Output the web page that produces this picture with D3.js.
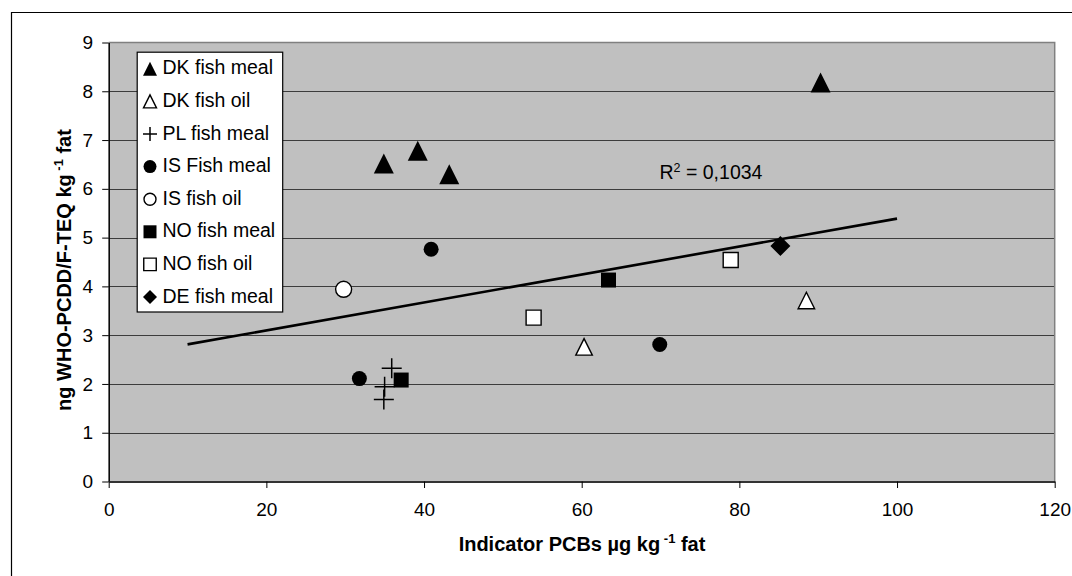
<!DOCTYPE html>
<html><head><meta charset="utf-8">
<script src="https://cdn.jsdelivr.net/npm/d3@7"></script>
<style>
body{margin:0;background:#fff}
svg{display:block}
text{font-family:"Liberation Sans",Arial,Helvetica,sans-serif;fill:#000}
</style>
</head><body>
<svg id="chart" width="1072" height="576"></svg>
<script>
// ---- data ----
const xTicks = [0, 20, 40, 60, 80, 100, 120];
const yTicks = [0, 1, 2, 3, 4, 5, 6, 7, 8, 9];
const seriesNames = ["DK fish meal", "DK fish oil", "PL fish meal", "IS Fish meal", "IS fish oil", "NO fish meal", "NO fish oil", "DE fish meal"];
const dkMealX = [34.9, 39.2, 43.2, 90.3];
const dkMealY = [6.52, 6.78, 6.30, 8.18];
const dkOilX = [60.3, 88.5];
const dkOilY = [2.76, 3.71];
const plMealX = [35.9, 35.0, 34.9];
const plMealY = [2.32, 1.94, 1.68];
const isMealX = [40.9, 31.8, 69.9];
const isMealY = [4.76, 2.11, 2.81];
const isOilX = [29.8];
const isOilY = [3.94];
const noMealX = [37.1, 63.4];
const noMealY = [2.08, 4.13];
const noOilX = [53.9, 78.9];
const noOilY = [3.36, 4.54];
const deMealX = [85.2];
const deMealY = [4.83];
const trendXRange = [10, 100];
const r2Value = "0,1034";
const xTitle = ["Indicator PCBs µg kg", "-1", " fat"];
const yTitle = ["ng WHO-PCDD/F-TEQ kg", "-1", " fat"];

// ---- build ----
const seriesX = [dkMealX, dkOilX, plMealX, isMealX, isOilX, noMealX, noOilX, deMealX];
const seriesY = [dkMealY, dkOilY, plMealY, isMealY, isOilY, noMealY, noOilY, deMealY];
const markerType = ["triFill", "triOpen", "plus", "circFill", "circOpen", "sqFill", "sqOpen", "diamond"];
const plotSize = {triFill: 20, triOpen: 16.5, plus: 20, circFill: 15, circOpen: 16, sqFill: 15, sqOpen: 15, diamond: 20};
const legSize = {triFill: 14, triOpen: 13, plus: 14, circFill: 13, circOpen: 12, sqFill: 13, sqOpen: 12.5, diamond: 14};

const svg = d3.select("#chart");
const L = 108.7, R = 1054.7, T = 42.5, B = 481.5;
const x = d3.scaleLinear().domain([0, 120]).range([L, R]);
const y = d3.scaleLinear().domain([0, 9]).range([B, T]);

// outer chart border (only top/left visible)
svg.append("path").attr("d", "M11.5,700 V12.5 H1200").attr("fill", "none").attr("stroke", "#000").attr("stroke-width", 1.2);

// plot area
svg.append("rect").attr("x", L).attr("y", T).attr("width", R - L).attr("height", B - T).attr("fill", "#c0c0c0");

// gridlines
svg.append("g").selectAll("line").data(yTicks.filter(d => d > 0 && d < 9)).join("line")
  .attr("x1", L).attr("x2", R).attr("y1", d => Math.round(y(d)) + 0.5).attr("y2", d => Math.round(y(d)) + 0.5)
  .attr("stroke", "#3c3c3c").attr("stroke-width", 1.1);
// top & right plot border
svg.append("path").attr("d", `M${L},${T} H${R} V${B}`).attr("fill", "none").attr("stroke", "#808080").attr("stroke-width", 1.5);

// axes
const yAxis = svg.append("g").attr("transform", `translate(${L},0)`)
  .call(d3.axisLeft(y).tickValues(yTicks).tickSize(6.5).tickPadding(9).tickSizeOuter(0).tickFormat(d3.format("d")));
const xAxis = svg.append("g").attr("transform", `translate(0,${B})`)
  .call(d3.axisBottom(x).tickValues(xTicks).tickSize(6.5).tickPadding(15).tickSizeOuter(0).tickFormat(d3.format("d")));
[yAxis, xAxis].forEach(g => {
  g.select(".domain").attr("stroke", "#000").attr("stroke-width", 1.5);
  g.selectAll(".tick line").attr("stroke", "#000").attr("stroke-width", 1);
  g.selectAll(".tick text").attr("font-size", "19px").attr("font-family", '"Liberation Sans",Arial,sans-serif').attr("fill", "#000");
});
xAxis.select(".domain").attr("stroke", "#333").attr("stroke-width", 2);

// marker path
function markerPath(type, s) {
  const h = s / 2;
  switch (type) {
    case "triFill": case "triOpen": return `M0,${-h}L${h},${h}L${-h},${h}Z`;
    case "plus": return `M${-h},0H${h}M0,${-h}V${h}`;
    case "circFill": case "circOpen": return `M${h},0A${h},${h} 0 1,1 ${-h},0A${h},${h} 0 1,1 ${h},0Z`;
    case "sqFill": case "sqOpen": return `M${-h},${-h}H${h}V${h}H${-h}Z`;
    case "diamond": return `M0,${-h}L${h},0L0,${h}L${-h},0Z`;
  }
}
function styleMarker(sel, type) {
  const isOpen = type.endsWith("Open");
  if (type === "plus") sel.attr("fill", "none").attr("stroke", "#000").attr("stroke-width", 1.5);
  else if (isOpen) sel.attr("fill", "#fff").attr("stroke", "#000").attr("stroke-width", 1.4);
  else sel.attr("fill", "#000").attr("stroke", "none");
}

// series markers
const gPts = svg.append("g");
seriesNames.forEach((name, i) => {
  const pts = seriesX[i].map((xv, j) => ({x: xv, y: seriesY[i][j]}));
  const t = markerType[i];
  const sel = gPts.append("g").selectAll("path").data(pts).join("path")
    .attr("transform", d => `translate(${x(d.x)},${y(d.y)})`)
    .attr("d", markerPath(t, plotSize[t]));
  styleMarker(sel, t);
});

// linear trendline over all points
const allPts = seriesX.flatMap((xs, i) => xs.map((xv, j) => [xv, seriesY[i][j]]));
const mx = d3.mean(allPts, d => d[0]), my = d3.mean(allPts, d => d[1]);
const slope = d3.sum(allPts, d => (d[0] - mx) * (d[1] - my)) / d3.sum(allPts, d => (d[0] - mx) ** 2);
const icpt = my - slope * mx;
svg.append("line")
  .attr("x1", x(trendXRange[0])).attr("y1", y(icpt + slope * trendXRange[0]))
  .attr("x2", x(trendXRange[1])).attr("y2", y(icpt + slope * trendXRange[1]))
  .attr("stroke", "#000").attr("stroke-width", 2.6);

// R² label
const r2 = svg.append("text").attr("x", 659.5).attr("y", 179.3).attr("font-size", "19.5px");
r2.append("tspan").text("R");
r2.append("tspan").attr("font-size", "12.5px").attr("dy", -7.5).text("2");
r2.append("tspan").attr("dy", 7.5).text(" = " + r2Value);

// legend
const lg = svg.append("g");
lg.append("rect").attr("x", 137.2).attr("y", 52.2).attr("width", 145.5).attr("height", 259.8)
  .attr("fill", "#fff").attr("stroke", "#000").attr("stroke-width", 1.2);
seriesNames.forEach((name, i) => {
  const by = 74.3 + i * 32.6;
  const t = markerType[i];
  const m = lg.append("path").attr("transform", `translate(150,${by - 5.5})`).attr("d", markerPath(t, legSize[t]));
  styleMarker(m, t);
  lg.append("text").attr("x", 162.5).attr("y", by).attr("font-size", "19.5px").text(name);
});

// axis titles
function titled(sel, parts) {
  sel.append("tspan").text(parts[0]);
  sel.append("tspan").attr("font-size", "13px").attr("dy", -8).text(" " + parts[1]);
  sel.append("tspan").attr("dy", 8).text(parts[2]);
}
const xt = svg.append("text").attr("x", 582).attr("y", 550.7).attr("text-anchor", "middle")
  .attr("font-size", "20px").attr("font-weight", "bold");
titled(xt, xTitle);
const yt = svg.append("text").attr("transform", "translate(71,270) rotate(-90)").attr("text-anchor", "middle")
  .attr("font-size", "20px").attr("font-weight", "bold");
titled(yt, yTitle);
</script>
</body></html>
